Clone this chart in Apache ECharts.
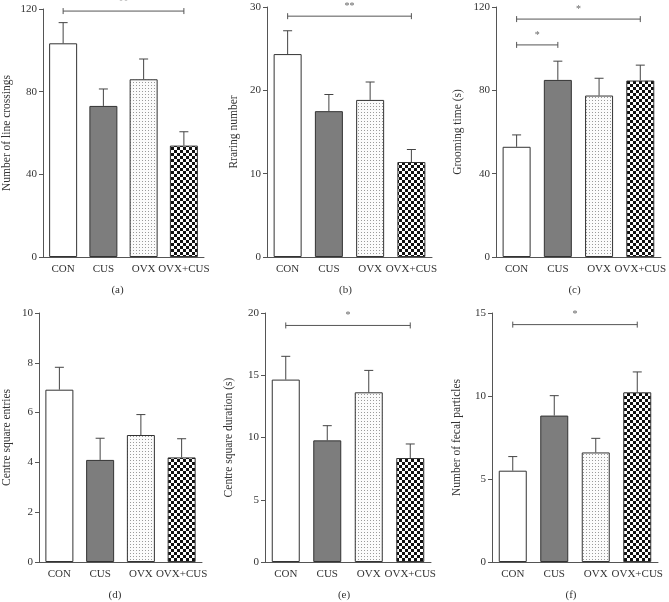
<!DOCTYPE html>
<html>
<head>
<meta charset="utf-8">
<script src="https://cdn.jsdelivr.net/npm/echarts@6/dist/echarts.min.js"></script>
<style>
  html, body { margin: 0; padding: 0; background: #fff; }
  #main { width: 669px; height: 602px; }
</style>
</head>
<body>
<div id="main"></div>
<script>
// groups
var categories = ['CON', 'CUS', 'OVX', 'OVX+CUS']

// (a) line crossings
var crossMean = [103.4, 73.1, 86.0, 53.9]
var crossSem = [10.0, 8.2, 9.8, 6.7]
// (b) rearing
var rearMean = [24.35, 17.5, 18.85, 11.4]
var rearSem = [2.8, 2.0, 2.15, 1.5]
// (c) grooming time
var groomMean = [52.9, 85.0, 77.5, 84.7]
var groomSem = [5.7, 9.0, 8.3, 7.4]
// (d) centre square entries
var entryMean = [6.92, 4.1, 5.1, 4.2]
var entrySem = [0.9, 0.87, 0.82, 0.75]
// (e) centre square duration
var durMean = [14.65, 9.77, 13.63, 8.35]
var durSem = [1.87, 1.18, 1.76, 1.13]
// (f) fecal particles
var fecalMean = [5.5, 8.82, 6.6, 10.22]
var fecalSem = [0.85, 1.2, 0.85, 1.23]

// significance brackets: [from, to, y, label]
var crossSig = [[0, 3, 119, '**']]
var rearSig = [[0, 3, 28.9, '**']]
var groomSig = [[0, 3, 114.2, '*'], [0, 1, 101.8, '*']]
var entrySig = []
var durSig = [[0, 3, 19.0, '*']]
var fecalSig = [[0, 3, 14.3, '*']]

var font = 'Liberation Serif'

function makeDots() {
  var c = document.createElement('canvas')
  c.width = 3
  c.height = 3
  var ctx = c.getContext('2d')
  ctx.fillStyle = '#fbfbfb'
  ctx.fillRect(0, 0, 3, 3)
  ctx.fillStyle = '#9a9a9a'
  ctx.fillRect(1, 1, 1, 1)
  return c
}

function makeChecker() {
  var c = document.createElement('canvas')
  c.width = 6
  c.height = 6
  var ctx = c.getContext('2d')
  ctx.fillStyle = '#ffffff'
  ctx.fillRect(0, 0, 6, 6)
  ctx.fillStyle = '#111111'
  ctx.fillRect(0, 0, 3, 3)
  ctx.fillRect(3, 3, 3, 3)
  return c
}

var fills = [
  '#ffffff',
  '#7d7d7d',
  { image: makeDots(), repeat: 'repeat' },
  { image: makeChecker(), repeat: 'repeat' }
]

var panels = [
  { mean: crossMean, sem: crossSem, sig: crossSig, max: 120, step: 40, name: 'Number of line crossings', gap: 30, tag: '(a)',
    grid: { left: 39, top: 9, width: 165, height: 248 } },
  { mean: rearMean, sem: rearSem, sig: rearSig, max: 30, step: 10, name: 'Rraring number', gap: 27, tag: '(b)',
    grid: { left: 267, top: 7, width: 165, height: 250 } },
  { mean: groomMean, sem: groomSem, sig: groomSig, max: 120, step: 40, name: 'Grooming time (s)', gap: 32, tag: '(c)',
    grid: { left: 496, top: 7, width: 165, height: 250 } },
  { mean: entryMean, sem: entrySem, sig: entrySig, max: 10, step: 2, name: 'Centre square entries', gap: 26, tag: '(d)',
    grid: { left: 36, top: 313, width: 166, height: 249 } },
  { mean: durMean, sem: durSem, sig: durSig, max: 20, step: 5, name: 'Centre square duration (s)', gap: 30, tag: '(e)',
    grid: { left: 265, top: 313, width: 166, height: 249 } },
  { mean: fecalMean, sem: fecalSem, sig: fecalSig, max: 15, step: 5, name: 'Number of fecal particles', gap: 29, tag: '(f)',
    grid: { left: 492, top: 313, width: 166, height: 249 } }
]

var grids = [], xAxes = [], yAxes = [], series = [], graphics = []

panels.forEach(function (p, i) {
  grids.push(p.grid)
  xAxes.push({
    type: 'category',
    gridIndex: i,
    data: categories,
    axisLine: { lineStyle: { color: '#555', width: 1 } },
    axisTick: { alignWithLabel: true, length: 4, lineStyle: { color: '#555' } },
    axisLabel: { interval: 0, color: '#333', fontFamily: font, fontSize: 11, margin: 7 }
  })
  yAxes.push({
    type: 'value',
    gridIndex: i,
    min: 0,
    max: p.max,
    interval: p.step,
    name: p.name,
    nameLocation: 'middle',
    nameGap: p.gap,
    nameTextStyle: { color: '#333', fontFamily: font, fontSize: 11.5 },
    axisLine: { show: true, lineStyle: { color: '#555', width: 1 } },
    axisTick: { show: true, length: 4, lineStyle: { color: '#555' } },
    axisLabel: { color: '#333', fontFamily: font, fontSize: 11, margin: 6 },
    splitLine: { show: false }
  })

  series.push({
    type: 'bar',
    xAxisIndex: i,
    yAxisIndex: i,
    barWidth: 28,
    silent: true,
    data: p.mean.map(function (v, k) {
      return { value: v, itemStyle: { color: fills[k] } }
    }),
    itemStyle: { borderColor: '#333', borderWidth: 1 }
  })

  // upper error bars
  series.push({
    type: 'custom',
    xAxisIndex: i,
    yAxisIndex: i,
    silent: true,
    z: 3,
    data: p.mean.map(function (v, k) { return [k, v, v + p.sem[k]] }),
    renderItem: function (params, api) {
      var base = api.coord([api.value(0), api.value(1)])
      var top = api.coord([api.value(0), api.value(2)])
      var st = { stroke: '#444', lineWidth: 1 }
      return {
        type: 'group',
        children: [
          { type: 'line', shape: { x1: base[0], y1: base[1], x2: top[0], y2: top[1] }, style: st },
          { type: 'line', shape: { x1: top[0] - 4.5, y1: top[1], x2: top[0] + 4.5, y2: top[1] }, style: st }
        ]
      }
    }
  })

  // significance brackets
  if (p.sig.length) {
    series.push({
      type: 'custom',
      xAxisIndex: i,
      yAxisIndex: i,
      silent: true,
      z: 3,
      clip: false,
      data: p.sig,
      renderItem: function (params, api) {
        var a = api.coord([api.value(0), api.value(2)])
        var b = api.coord([api.value(1), api.value(2)])
        var st = { stroke: '#555', lineWidth: 1 }
        var label = p.sig[params.dataIndex][3]
        return {
          type: 'group',
          children: [
            { type: 'line', shape: { x1: a[0], y1: a[1], x2: b[0], y2: b[1] }, style: st },
            { type: 'line', shape: { x1: a[0], y1: a[1] - 3, x2: a[0], y2: a[1] + 3 }, style: st },
            { type: 'line', shape: { x1: b[0], y1: b[1] - 3, x2: b[0], y2: b[1] + 3 }, style: st },
            { type: 'text', x: (a[0] + b[0]) / 2, y: a[1] - 5,
              style: { text: label, fill: '#666', font: '10px ' + font, align: 'center', verticalAlign: 'bottom' } }
          ]
        }
      }
    })
  }

  graphics.push({
    type: 'text',
    x: p.grid.left + p.grid.width / 2 - 4,
    y: p.grid.top + p.grid.height + 33,
    style: { text: p.tag, fill: '#333', font: '11px ' + font, align: 'center', verticalAlign: 'middle' }
  })
})

var chart = echarts.init(document.getElementById('main'), null, { renderer: 'canvas' })
chart.setOption({
  animation: false,
  backgroundColor: '#fff',
  grid: grids,
  xAxis: xAxes,
  yAxis: yAxes,
  series: series,
  graphic: graphics
})
</script>
</body>
</html>
